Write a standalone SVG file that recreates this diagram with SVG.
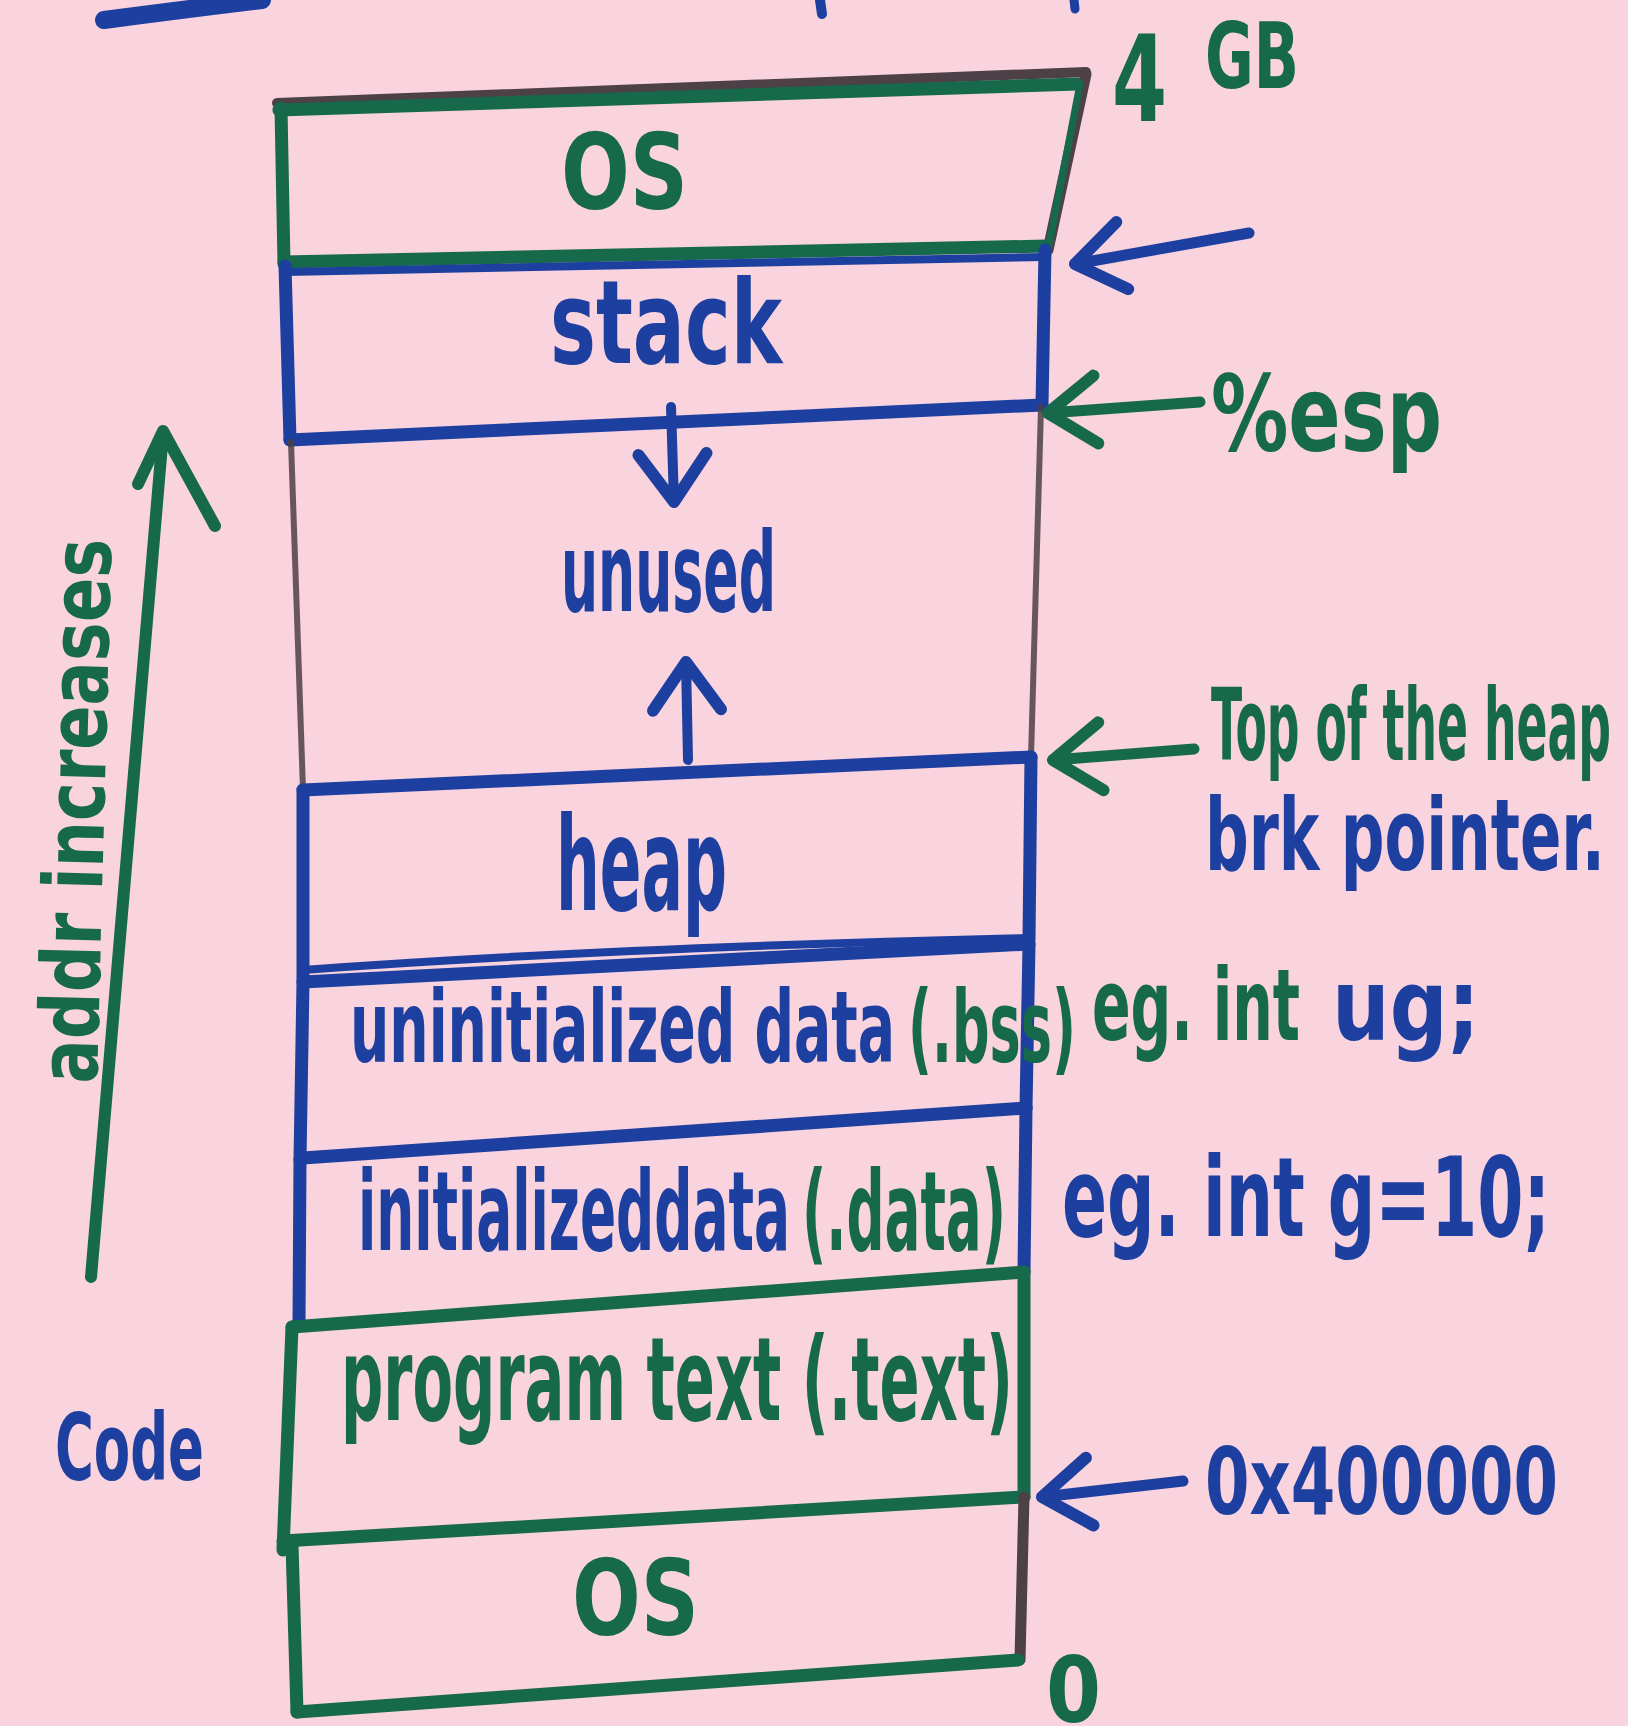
<svg xmlns="http://www.w3.org/2000/svg" width="1628" height="1726" viewBox="0 0 1628 1726">
<defs>
<style>
.ln{fill:none;stroke-linecap:round;stroke-linejoin:round}
.g{stroke:#17694b}
.b{stroke:#1d3f9f}
.k{stroke:#4d4046}
.w{stroke-width:13}
.p{stroke-width:6;opacity:0.85}
.t{font-family:"Liberation Sans Narrow","DejaVu Sans Condensed","Liberation Sans",sans-serif;font-weight:bold}
.tg{fill:#17694b}
.tb{fill:#1d3f9f}
</style>
<marker id="hg" viewBox="-60 -40 70 80" refX="0" refY="0" markerWidth="70" markerHeight="80" markerUnits="userSpaceOnUse" orient="auto" overflow="visible">
<path d="M-48,-34 L0,0 L-48,34" fill="none" stroke="#17694b" stroke-width="12" stroke-linecap="round" stroke-linejoin="round"/>
</marker>
<marker id="hb" viewBox="-60 -40 70 80" refX="0" refY="0" markerWidth="70" markerHeight="80" markerUnits="userSpaceOnUse" orient="auto" overflow="visible">
<path d="M-48,-34 L0,0 L-48,34" fill="none" stroke="#1d3f9f" stroke-width="12" stroke-linecap="round" stroke-linejoin="round"/>
</marker>
</defs>
<rect width="1628" height="1726" fill="#f9d3de"/>

<!-- cut-off strokes at the top edge -->
<g id="top-fragments" class="ln b">
<path d="M104,20 Q180,10 262,0" stroke-width="18"/>
<path d="M820,0 L822,14" stroke-width="10"/>
<path d="M1074,0 L1075,9" stroke-width="9"/>
</g>

<g id="os-top">
<path class="ln k" d="M277,103 L1086,72" stroke-width="10"/>
<path class="ln g w" d="M279,110 L1078,84"/>
<path class="ln k" d="M1086,74 L1048,250" stroke-width="11"/>
<path class="ln g" d="M1080,84 L1050,240" stroke-width="7"/>
<path class="ln g w" d="M281,108 L284,264"/>
<text class="t tg" x="561" y="209" font-size="105" textLength="127" lengthAdjust="spacingAndGlyphs">OS</text>
</g>

<g id="stack">
<path class="ln g w" d="M284,262 L1046,246"/>
<path class="ln b" d="M286,272 L1044,257" stroke-width="8"/>
<path class="ln b w" d="M285,266 L290,440"/>
<path class="ln b w" d="M1045,250 L1042,405"/>
<path class="ln b w" d="M290,440 L1042,405"/>
<text class="t tb" x="550" y="363" font-size="115" textLength="232" lengthAdjust="spacingAndGlyphs">stack</text>
</g>

<g id="unused">
<path class="ln k p" d="M291,442 L303,790"/>
<path class="ln k p" d="M1041,407 L1031,757"/>
<text class="t tb" x="561" y="611" font-size="110" textLength="215" lengthAdjust="spacingAndGlyphs">unused</text>
</g>

<g id="heap">
<path class="ln b w" d="M303,790 L1031,757"/>
<path class="ln b w" d="M303,790 L303,980"/>
<path class="ln b w" d="M1031,757 L1029,940"/>
<text class="t tb" x="556" y="910" font-size="130" textLength="171" lengthAdjust="spacingAndGlyphs">heap</text>
</g>

<g id="bss">
<path class="ln b" d="M303,970 Q600,948 1029,938" stroke-width="8"/>
<path class="ln b w" d="M303,982 L1029,944"/>
<path class="ln b w" d="M303,982 L300,1160"/>
<path class="ln b w" d="M1029,944 L1026,1108"/>
<text class="t tb" x="350" y="1062" font-size="100" textLength="545" lengthAdjust="spacingAndGlyphs">uninitialized data</text>
<text class="t tg" x="908" y="1062" font-size="100" textLength="168" lengthAdjust="spacingAndGlyphs">(.bss)</text>
<text class="t tg" x="1092" y="1040" font-size="100" textLength="208" lengthAdjust="spacingAndGlyphs">eg. int</text>
<text class="t tb" x="1332" y="1040" font-size="100" textLength="148" lengthAdjust="spacingAndGlyphs">ug;</text>
</g>

<g id="data">
<path class="ln b w" d="M303,1158 L1026,1108"/>
<path class="ln b w" d="M300,1160 L299,1325"/>
<path class="ln b w" d="M1026,1108 L1024,1272"/>
<text class="t tb" x="358" y="1250" font-size="110" textLength="432" lengthAdjust="spacingAndGlyphs">initializeddata</text>
<text class="t tg" x="802" y="1250" font-size="110" textLength="204" lengthAdjust="spacingAndGlyphs">(.data)</text>
<text class="t tb" x="1062" y="1236" font-size="110" textLength="488" lengthAdjust="spacingAndGlyphs">eg. int g=10;</text>
</g>

<g id="text">
<path class="ln g w" d="M292,1327 L1024,1272"/>
<path class="ln g w" d="M292,1327 L283,1550"/>
<path class="ln g w" d="M1024,1272 L1024,1497"/>
<text class="t tg" x="341" y="1420" font-size="115" textLength="672" lengthAdjust="spacingAndGlyphs">program text (.text)</text>
</g>

<g id="os-bottom">
<path class="ln g w" d="M283,1541 L1024,1497"/>
<path class="ln g w" d="M292,1545 L297,1712"/>
<path class="ln k" d="M1024,1497 L1020,1660" stroke-width="11"/>
<path class="ln g w" d="M297,1712 L1018,1660"/>
<text class="t tg" x="572" y="1635" font-size="105" textLength="127" lengthAdjust="spacingAndGlyphs">OS</text>
</g>

<g id="label-4gb">
<text class="t tg" x="1112" y="121" font-size="120" textLength="55" lengthAdjust="spacingAndGlyphs">4</text>
<text class="t tg" x="1205" y="88" font-size="90" textLength="94" lengthAdjust="spacingAndGlyphs">GB</text>
</g>
<g id="label-esp">
<text class="t tg" x="1211" y="451" font-size="105" textLength="231" lengthAdjust="spacingAndGlyphs">%esp</text>
</g>
<g id="label-brk">
<text class="t tg" x="1211" y="760" font-size="100" textLength="400" lengthAdjust="spacingAndGlyphs">Top of the heap</text>
<text class="t tb" x="1205" y="870" font-size="100" textLength="400" lengthAdjust="spacingAndGlyphs">brk pointer.</text>
</g>
<g id="label-0x400000">
<text class="t tb" x="1205" y="1514" font-size="92" textLength="353" lengthAdjust="spacingAndGlyphs">0x400000</text>
</g>
<g id="label-0">
<text class="t tg" x="1046" y="1722" font-size="90" textLength="55" lengthAdjust="spacingAndGlyphs">0</text>
</g>
<g id="label-code">
<text class="t tb" x="55" y="1480" font-size="92" textLength="149" lengthAdjust="spacingAndGlyphs">Code</text>
</g>
<g id="label-addr">
<text class="t tg" x="97" y="1084" font-size="82" textLength="545" lengthAdjust="spacingAndGlyphs" transform="rotate(-88.5 97 1084)">addr increases</text>
</g>

<g id="connectors" class="ln">
<path class="b" stroke-width="11" d="M1249,233 L1075,264" marker-end="url(#hb)"/>
<path class="g" stroke-width="11" d="M1200,402 L1048,413" marker-end="url(#hg)"/>
<path class="g" stroke-width="11" d="M1194,749 L1053,760" marker-end="url(#hg)"/>
<path class="b" stroke-width="11" d="M1183,1481 L1042,1497" marker-end="url(#hb)"/>
<path class="b" stroke-width="10" d="M671,407 L674,502" marker-end="url(#hb)"/>
<path class="b" stroke-width="10" d="M688,760 L686,662" marker-end="url(#hb)"/>
<path class="g" stroke-width="12" d="M91,1277 L163,433"/>
<path class="g" stroke-width="12" d="M138,484 L163,431 L215,526"/>
</g>
</svg>
